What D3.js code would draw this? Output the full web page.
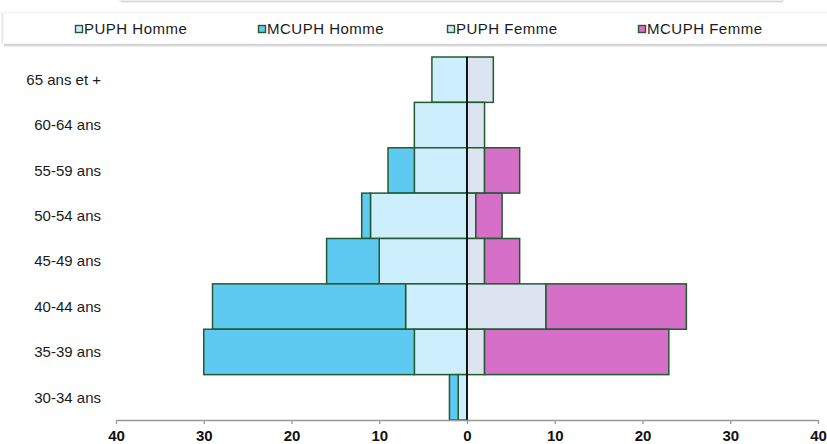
<!DOCTYPE html>
<html><head><meta charset="utf-8">
<script src="https://cdn.jsdelivr.net/npm/d3@7"></script>
<style>
html,body{margin:0;padding:0;background:#fff;overflow:hidden;}
svg{display:block;font-family:"Liberation Sans",Arial,sans-serif;}
</style></head>
<body>
<svg id="c" width="827" height="444"></svg>
<script>
const categories = ["65 ans et +","60-64 ans","55-59 ans","50-54 ans","45-49 ans","40-44 ans","35-39 ans","30-34 ans"];
const puphHomme  = [4, 6, 6, 11, 10, 7, 6, 1];
const mcuphHomme = [0, 0, 3, 1, 6, 22, 24, 1];
const puphFemme  = [3, 2, 2, 1, 2, 9, 2, 0];
const mcuphFemme = [0, 0, 4, 3, 4, 16, 21, 0];
const seriesNames = ["PUPH Homme","MCUPH Homme","PUPH Femme","MCUPH Femme"];
const tickValues = [-40,-30,-20,-10,0,10,20,30,40];

const colors = ["#cdeefc","#5fcaf1","#dbe4f0","#d66fc8"];
const strokeC = "#235a30";

const svg = d3.select("#c");
const defs = svg.append("defs");
const gr = defs.append("linearGradient").attr("id","shd").attr("x1",0).attr("y1",0).attr("x2",0).attr("y2",1);
gr.append("stop").attr("offset","0%").attr("stop-color","#8a8a8a").attr("stop-opacity",0.9);
gr.append("stop").attr("offset","100%").attr("stop-color","#ffffff").attr("stop-opacity",0);
const grl = defs.append("linearGradient").attr("id","shl").attr("x1",1).attr("y1",0).attr("x2",0).attr("y2",0);
grl.append("stop").attr("offset","0%").attr("stop-color","#bbb").attr("stop-opacity",0.6);
grl.append("stop").attr("offset","100%").attr("stop-color","#fff").attr("stop-opacity",0);

// top box remnant with shadow
svg.append("rect").attr("x",121).attr("y",0).attr("width",662).attr("height",4).attr("fill","url(#shd)");
svg.append("rect").attr("x",120).attr("y",-10).attr("width",663).attr("height",11).attr("fill","#fff")
  .attr("stroke","#d8d8d8").attr("stroke-width",0.8);
svg.append("rect").attr("x",783).attr("y",-10).attr("width",3).attr("height",13).attr("fill","url(#shd)").attr("opacity",0.5);

// legend box with shadow
svg.append("rect").attr("x",4).attr("y",43.5).attr("width",830).attr("height",5).attr("fill","url(#shd)");
svg.append("rect").attr("x",0).attr("y",13).attr("width",3).attr("height",31).attr("fill","url(#shl)");
svg.append("rect").attr("x",3).attr("y",12.5).attr("width",840).attr("height",31.5)
  .attr("fill","#fff").attr("stroke","#eeeeee").attr("stroke-width",0.8);

const x = d3.scaleLinear().domain([-40,40]).range([116,818]);
const y = d3.scaleBand().domain(categories).range([57,420]).padding(0);

// legend
const legX = [75,258,447,638];
seriesNames.forEach((n,i)=>{
  const g = svg.append("g").attr("transform",`translate(${legX[i]},29)`);
  g.append("rect").attr("x",0.5).attr("y",-3.5).attr("width",7).attr("height",7)
    .attr("fill",colors[i]).attr("stroke",strokeC).attr("stroke-width",1.4);
  g.append("text").attr("x",9).attr("y",0).attr("dy","0.35em")
    .attr("font-size",15).attr("letter-spacing","0.5px").attr("fill","#1a1a1a").text(n);
});

// bars
const rows = categories.map((c,i)=>({c, ph:puphHomme[i], mh:mcuphHomme[i], pf:puphFemme[i], mf:mcuphFemme[i]}));
const segs = [];
rows.forEach(r=>{
  segs.push({c:r.c, x0:-r.ph, x1:0, col:0});
  segs.push({c:r.c, x0:-(r.ph+r.mh), x1:-r.ph, col:1});
  segs.push({c:r.c, x0:0, x1:r.pf, col:2});
  segs.push({c:r.c, x0:r.pf, x1:r.pf+r.mf, col:3});
});
svg.append("g").selectAll("rect").data(segs.filter(s=>s.x1>s.x0)).join("rect")
  .attr("x",d=>x(d.x0)).attr("width",d=>x(d.x1)-x(d.x0))
  .attr("y",d=>y(d.c)).attr("height",y.bandwidth())
  .attr("fill",d=>colors[d.col]).attr("stroke",strokeC).attr("stroke-width",1.5);

// center line
svg.append("line").attr("x1",x(0)).attr("x2",x(0)).attr("y1",57).attr("y2",420)
  .attr("stroke","#000").attr("stroke-width",1.6);

// category labels
svg.append("g").selectAll("text").data(categories).join("text")
  .attr("x",101).attr("y",d=>y(d)+y.bandwidth()/2).attr("dy","0.35em")
  .attr("text-anchor","end").attr("font-size",15).attr("fill","#1a1a1a").text(d=>d);

// x axis
const ax = svg.append("g").attr("transform","translate(0,420)")
  .call(d3.axisBottom(x).tickValues(tickValues).tickFormat(d=>Math.abs(d)).tickSizeInner(4).tickSizeOuter(0).tickPadding(6));
ax.select(".domain").attr("stroke","#999").attr("stroke-width",1.3);
ax.selectAll(".tick line").attr("stroke","#999").attr("stroke-width",1.3);
ax.selectAll(".tick text").attr("font-size",15).attr("font-weight","bold").attr("fill","#111")
  .attr("font-family","'Liberation Sans',Arial,sans-serif");
</script>
</body></html>
